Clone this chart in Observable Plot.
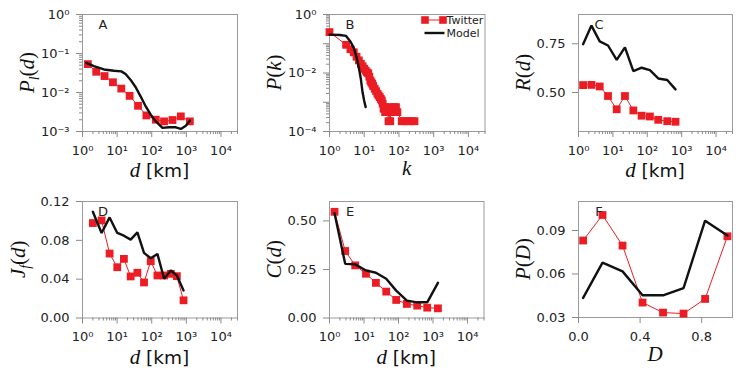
<!DOCTYPE html>
<html>
<head>
<meta charset="utf-8">
<script src="https://cdn.jsdelivr.net/npm/d3@7"></script>
<script src="https://cdn.jsdelivr.net/npm/@observablehq/plot@0.6"></script>
<style>
  html, body { margin: 0; padding: 0; background: #fff; }
  #fig { position: relative; width: 747px; height: 374px; overflow: hidden; }
  .cell { position: absolute; width: 249px; height: 187px; }
</style>
</head>
<body>
<div id="fig"></div>
<script>
// ---------- data ----------
// Panel A: P_l(d)
const aDistTw = [1.43, 2.49, 4.34, 7.57, 13.2, 23, 40.2, 70, 131, 227, 398, 692, 1260];
const aTwitter = [0.0534, 0.034, 0.0264, 0.0183, 0.0126, 0.0082, 0.00456, 0.00258, 0.00201, 0.00182, 0.00197, 0.00244, 0.00182];
const aDistModel = [1.28, 2.13, 4.15, 8.09, 13.2, 17.6, 24.6, 34.4, 48, 67, 93.5, 131, 204, 318, 496, 692, 968, 1260];
const aModel = [0.0578, 0.0475, 0.039, 0.0361, 0.0348, 0.0297, 0.021, 0.0136, 0.00787, 0.00439, 0.00269, 0.00182, 0.00124, 0.00128, 0.00128, 0.00116, 0.0014, 0.0019];

// Panel B: P(k)
const bKTw = [1, 3, 4, 5, 6, 7, 8, 9, 10, 11, 12, 13, 14, 15, 16, 17, 18, 20, 22, 24, 26, 28, 30, 32, 34, 36, 38, 40, 42, 44, 47, 50, 53, 56, 60, 66, 72, 82, 90, 120, 140, 170, 200, 240, 280];
const bTwitter = [0.25, 0.092, 0.065, 0.051, 0.036, 0.027, 0.0206, 0.017, 0.0139, 0.012, 0.0105, 0.0098, 0.0075, 0.0055, 0.0048, 0.0043, 0.0036, 0.0029, 0.0024, 0.00195, 0.0017, 0.0015, 0.0013, 0.00115, 0.0009, 0.0006, 0.00068, 0.00046, 0.00068, 0.00046, 0.00046, 0.000225, 0.00046, 0.000225, 0.00068, 0.00046, 0.00068, 0.00068, 0.00046, 0.000225, 0.000225, 0.000225, 0.000225, 0.000225, 0.000225];
const bKModel = [1, 2, 3, 4, 5, 6, 7, 8, 9, 10, 11];
const bModel = [0.205, 0.2, 0.185, 0.12, 0.072, 0.035, 0.015, 0.0062, 0.0021, 0.0011, 0.00068];

// Panel C: R(d)
const cDist = [1.36, 2.38, 4.14, 7.21, 12.9, 22.4, 39.3, 68.4, 119, 208, 380, 661];
const cTwitter = [0.538, 0.539, 0.531, 0.482, 0.414, 0.482, 0.408, 0.381, 0.377, 0.360, 0.353, 0.350];
const cModel = [0.748, 0.843, 0.762, 0.741, 0.667, 0.731, 0.610, 0.627, 0.615, 0.572, 0.564, 0.516];

// Panel D: J_f(d)
const dDist = [1.99, 3.56, 6.06, 10.1, 15.7, 24.6, 38.5, 59.8, 93.5, 146, 228, 356, 531, 829];
const dTwitter = [0.0978, 0.1005, 0.0664, 0.0523, 0.0609, 0.0428, 0.0466, 0.0366, 0.0585, 0.0438, 0.0438, 0.0455, 0.0431, 0.0182];
const dModel = [0.1094, 0.0876, 0.1036, 0.0876, 0.0848, 0.0807, 0.0882, 0.0671, 0.0615, 0.066, 0.0404, 0.0489, 0.0438, 0.0284];

// Panel E: C(d)
const eDist = [1.40, 2.85, 5.56, 11.4, 22.1, 44, 85.7, 175, 348, 679, 1387];
const eTwitter = [0.547, 0.345, 0.271, 0.228, 0.181, 0.136, 0.093, 0.0725, 0.0637, 0.0533, 0.0497];
const eModel = [0.54, 0.279, 0.276, 0.245, 0.233, 0.202, 0.141, 0.0895, 0.0808, 0.0808, 0.181];

// Panel F: P(D)
const fD = [0.030, 0.156, 0.286, 0.416, 0.549, 0.682, 0.822, 0.967];
const fTwitter = [0.0831, 0.1007, 0.0796, 0.0403, 0.0334, 0.0327, 0.0428, 0.086];
const fModel = [0.0435, 0.0678, 0.0618, 0.0453, 0.0453, 0.0503, 0.0968, 0.0865];

// Tick values
const logXMajor = [1, 10, 100, 1000, 10000];
const aYMajor = [0.001, 0.01, 0.1, 1];
const bYMajor = [0.0001, 0.001, 0.01, 0.1, 1];
const bYLabeled = [0.0001, 0.01, 1];
const cYTicks = [0.50, 0.75];
const dYTicks = [0, 0.04, 0.08, 0.12];
const eYTicks = [0, 0.25, 0.5];
const fXTicks = [0, 0.4, 0.8];
const fYTicks = [0.03, 0.06, 0.09];
const seriesNames = ["Twitter", "Model"];
const panelLetters = ["A", "B", "C", "D", "E", "F"];

// ---------- helpers ----------
const RED = "#ec1c24";
const BLACK = "#111";
const FRAME = "#9a9a9a";
const TICK = "#8a8a8a";
const SUP = {"0": "⁰", "1": "¹", "2": "²", "3": "³", "4": "⁴", "5": "⁵", "-": "⁻"};
const pow10 = v => "10" + String(Math.round(Math.log10(v))).split("").map(c => SUP[c]).join("");
const minorsFor = (majors, max) => {
  const out = [];
  for (const m of majors) for (let i = 2; i <= 9; i++) { const v = m * i; if (v <= max) out.push(v); }
  return out;
};
const rows = (xs, ys) => xs.map((x, i) => ({x, y: ys[i]}));

function addLabel(svg, parts, x, y, rotate, anchor = "middle") {
  const t = d3.select(svg).append("text")
    .attr("transform", `translate(${x},${y})` + (rotate ? " rotate(-90)" : ""))
    .attr("text-anchor", anchor)
    .attr("fill", "#111");
  let shifted = false;
  for (const p of parts) {
    const s = t.append("tspan").text(p.t);
    if (p.serif) s.attr("font-family", "'Liberation Serif', 'DejaVu Serif', serif").attr("font-size", p.sub ? 14 : 21);
    else s.attr("font-family", "'DejaVu Sans', sans-serif").attr("font-size", 18.5);
    if (p.i) s.attr("font-style", "italic");
    if (p.sub && !shifted) { s.attr("dy", 5); shifted = true; }
    else if (!p.sub && shifted) { s.attr("dy", -5); shifted = false; }
  }
}

function panel(cfg) {
  const W = 249, H = 187;
  const mt = 14, mb = cfg.mb ?? 56;
  const marks = [
    Plot.frame({stroke: FRAME, strokeWidth: 1}),
    Plot.axisX({ticks: cfg.xTicks, tickFormat: cfg.xFmt, tickSize: 6, tickPadding: 8, stroke: TICK, label: null}),
    cfg.xMinor ? Plot.axisX({ticks: cfg.xMinor, tickFormat: () => "", tickSize: 3, tickPadding: 0, stroke: TICK, label: null}) : null,
    Plot.axisY({ticks: cfg.yTicks, tickFormat: cfg.yFmt, tickSize: 6, tickPadding: 7, stroke: TICK, label: null}),
    cfg.yMinor ? Plot.axisY({ticks: cfg.yMinor, tickFormat: () => "", tickSize: 3, tickPadding: 0, stroke: TICK, label: null}) : null,
    Plot.line(cfg.tw, {x: "x", y: "y", stroke: RED, strokeWidth: 1}),
    Plot.dot(cfg.tw, {x: "x", y: "y", symbol: "square", r: 4.4, fill: RED, stroke: "none"}),
    Plot.line(cfg.model, {x: "x", y: "y", stroke: BLACK, strokeWidth: 2.4, strokeLinejoin: "miter"})
  ];
  const svg = Plot.plot({
    width: W, height: H,
    marginLeft: cfg.ml, marginRight: cfg.mr, marginTop: mt, marginBottom: mb,
    x: cfg.x, y: cfg.y,
    style: {fontFamily: "'DejaVu Sans', sans-serif", fontSize: "13px", color: "#222", background: "transparent", overflow: "visible"},
    marks
  });
  const fl = cfg.ml, fr = W - cfg.mr, ft = mt, fb = H - mb;
  const cx = (fl + fr) / 2, cy = (ft + fb) / 2;
  // panel letter
  d3.select(svg).append("text").text(cfg.letter)
    .attr("x", fl + 21).attr("y", ft + 10).attr("dy", "0.36em")
    .attr("text-anchor", "middle").attr("font-size", 13).attr("fill", "#222")
    .attr("font-family", "'DejaVu Sans', sans-serif");
  addLabel(svg, cfg.xlabel, cx, fb + (cfg.xlabelDy ?? 46), false);
  addLabel(svg, cfg.ylabel, fl - (cfg.ylabelDx ?? 48), cy, true);
  if (cfg.legend) cfg.legend(svg, fr, ft);
  const div = document.createElement("div");
  div.className = "cell";
  div.style.left = cfg.left + "px";
  div.style.top = cfg.top + "px";
  div.appendChild(svg);
  document.getElementById("fig").appendChild(div);
}

const logX = {type: "log", domain: [1, 30000]};
const xMinorLog = minorsFor(logXMajor, 30000);
const dkm = [{t: "d", serif: true, i: true}, {t: " [km]"}];

// A
panel({
  left: 0, top: 0, ml: 82, mr: 12, letter: panelLetters[0],
  x: logX, y: {type: "log", domain: [0.001, 1]},
  xTicks: logXMajor, xMinor: xMinorLog, xFmt: pow10,
  yTicks: aYMajor, yMinor: minorsFor(aYMajor, 1), yFmt: pow10,
  tw: rows(aDistTw, aTwitter), model: rows(aDistModel, aModel),
  xlabel: dkm,
  ylabel: [{t: "P", serif: true, i: true}, {t: "l", serif: true, i: true, sub: true}, {t: "(", serif: true}, {t: "d", serif: true, i: true}, {t: ")", serif: true}]
});

// B
panel({
  left: 249, top: 0, ml: 80, mr: 13.5, letter: panelLetters[1],
  x: logX, y: {type: "log", domain: [0.0001, 1]},
  xTicks: logXMajor, xMinor: xMinorLog, xFmt: pow10,
  yTicks: bYMajor, yMinor: minorsFor(bYMajor, 1), yFmt: v => bYLabeled.some(b => Math.abs(b - v) < v * 1e-6) ? pow10(v) : "",
  tw: rows(bKTw, bTwitter), model: rows(bKModel, bModel),
  xlabel: [{t: "k", serif: true, i: true}], xlabelDy: 44,
  ylabel: [{t: "P", serif: true, i: true}, {t: "(", serif: true}, {t: "k", serif: true, i: true}, {t: ")", serif: true}],
  legend: (svg, fr, ft) => {
    const g = d3.select(svg).append("g");
    const items = [{name: seriesNames[0], y: ft + 6, red: true}, {name: seriesNames[1], y: ft + 19, red: false}];
    for (const it of items) {
      g.append("line").attr("x1", fr - 60).attr("x2", fr - 40).attr("y1", it.y).attr("y2", it.y)
        .attr("stroke", it.red ? RED : BLACK).attr("stroke-width", it.red ? 1 : 2.4);
      if (it.red) {
        for (const xx of [fr - 59.5, fr - 41.5]) g.append("rect").attr("x", xx - 3.8).attr("y", it.y - 3.8).attr("width", 7.6).attr("height", 7.6).attr("fill", RED);
      }
      g.append("text").text(it.name).attr("x", fr - 38).attr("y", it.y).attr("dy", "0.36em")
        .attr("text-anchor", "start")
        .attr("font-size", 11).attr("fill", "#222").attr("font-family", "'DejaVu Sans', sans-serif");
    }
  }
});

// C
panel({
  left: 498, top: 0, ml: 80, mr: 15, letter: panelLetters[2],
  x: logX, y: {domain: [0.30, 0.90]},
  xTicks: logXMajor, xMinor: xMinorLog, xFmt: pow10,
  yTicks: cYTicks, yFmt: d3.format(".2f"),
  tw: rows(cDist, cTwitter), model: rows(cDist, cModel),
  xlabel: dkm,
  ylabel: [{t: "R", serif: true, i: true}, {t: "(", serif: true}, {t: "d", serif: true, i: true}, {t: ")", serif: true}]
});

// D
panel({
  left: 0, top: 187, ml: 82, mr: 12, mb: 56.5, letter: panelLetters[3],
  x: logX, y: {domain: [0, 0.12]},
  xTicks: logXMajor, xMinor: xMinorLog, xFmt: pow10,
  yTicks: dYTicks, yFmt: d3.format(".2f"),
  tw: rows(dDist, dTwitter), model: rows(dDist, dModel),
  xlabel: dkm, ylabelDx: 57,
  ylabel: [{t: "J", serif: true, i: true}, {t: "f", serif: true, i: true, sub: true}, {t: "(", serif: true}, {t: "d", serif: true, i: true}, {t: ")", serif: true}]
});

// E
panel({
  left: 249, top: 187, ml: 80, mr: 14.5, mb: 56.5, letter: panelLetters[4],
  x: logX, y: {domain: [0, 0.6]},
  xTicks: logXMajor, xMinor: xMinorLog, xFmt: pow10,
  yTicks: eYTicks, yFmt: d3.format(".2f"),
  tw: rows(eDist, eTwitter), model: rows(eDist, eModel),
  xlabel: dkm,
  ylabel: [{t: "C", serif: true, i: true}, {t: "(", serif: true}, {t: "d", serif: true, i: true}, {t: ")", serif: true}]
});

// F
panel({
  left: 498, top: 187, ml: 80, mr: 15, mb: 57, letter: panelLetters[5],
  x: {domain: [0, 1]}, y: {domain: [0.03, 0.11]},
  xTicks: fXTicks, xFmt: d3.format(".1f"),
  yTicks: fYTicks, yFmt: d3.format(".2f"),
  tw: rows(fD, fTwitter), model: rows(fD, fModel),
  xlabel: [{t: "D", serif: true, i: true}], xlabelDy: 44,
  ylabel: [{t: "P", serif: true, i: true}, {t: "(", serif: true}, {t: "D", serif: true, i: true}, {t: ")", serif: true}]
});
</script>
</body>
</html>
